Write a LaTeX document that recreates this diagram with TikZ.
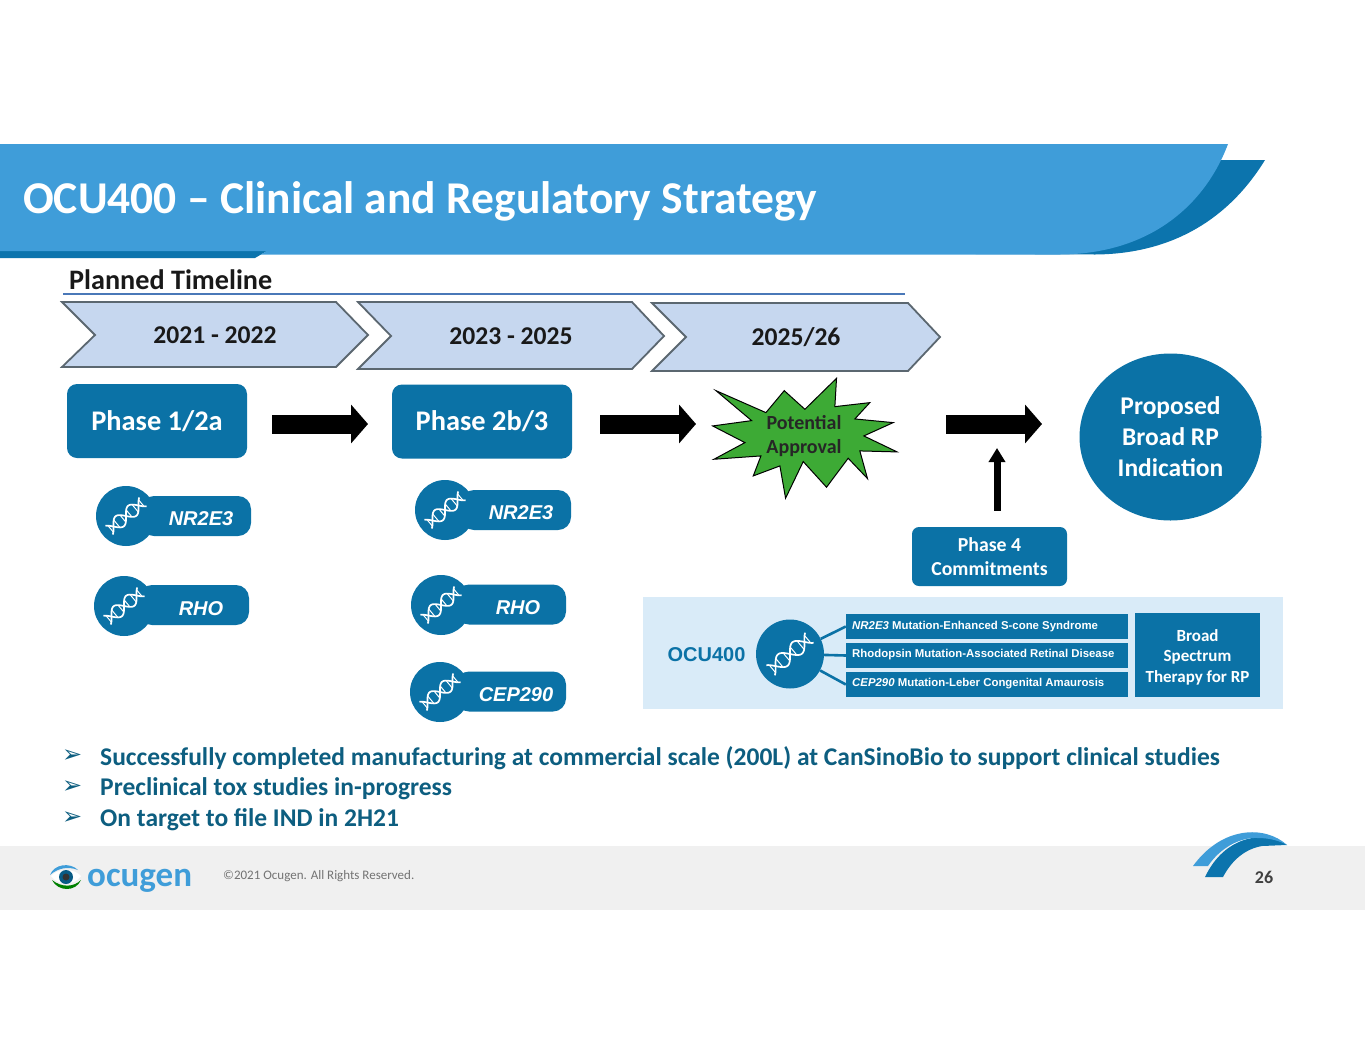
\documentclass[tikz,border=0pt]{standalone}
\usepackage{fontspec}
\setmainfont{Carlito}
\newfontfamily\armfont{Liberation Sans}
\newfontfamily\dejafont{DejaVu Sans}
\usetikzlibrary{shapes.geometric,arrows.meta}
\definecolor{bandlight}{HTML}{3F9DD9}
\definecolor{banddark}{HTML}{0C74AD}
\definecolor{boxblue}{HTML}{0B72A6}
\definecolor{chevfill}{HTML}{C6D7EF}
\definecolor{chevline}{HTML}{5B6770}
\definecolor{panelblue}{HTML}{D9EBF8}
\definecolor{bullettext}{HTML}{0D5E80}
\definecolor{starfill}{HTML}{3DAA35}
\definecolor{ruleblue}{HTML}{4A78B8}
\tikzset{phasebox/.style={fill=boxblue,rounded corners=10pt,minimum width=180pt,minimum height=74pt,text=white,font=\bfseries\fontsize{28.4}{32}\selectfont}}
\tikzset{chevron/.style={fill=chevfill,draw=chevline,line width=1.8pt,miter limit=10}}
\tikzset{yeartext/.style={font=\bfseries\fontsize{25.6}{30}\selectfont,text=black!90}}
\tikzset{blockarrow/.style={line width=19pt,-{Triangle[length=17pt,width=38pt]}}}
\tikzset{pillcirc/.style={circle,fill=boxblue,minimum size=60pt,inner sep=0pt}}
\tikzset{pillbar/.style={fill=boxblue,rounded corners=13pt,minimum width=110pt,minimum height=40pt,inner sep=0pt}}
\tikzset{pilltext/.style={text=white,font=\armfont\bfseries\itshape\fontsize{20}{24}\selectfont}}
\tikzset{diseasebox/.style={fill=boxblue,minimum width=282pt,minimum height=25pt,inner sep=0pt}}
\tikzset{diseasetext/.style={anchor=west,inner sep=0pt,text=white,font=\armfont\bfseries\fontsize{11.4}{14}\selectfont}}
\tikzset{bullettxt/.style={anchor=west,inner sep=0pt,text=bullettext,font=\bfseries\fontsize{25.5}{30}\selectfont}}
\tikzset{bulletmark/.style={anchor=west,inner sep=0pt,text=bullettext,font=\dejafont\fontsize{24}{26}\selectfont}}
\tikzset{dna/.pic={
    \begin{scope}[rotate=40,white,line width=1.7pt]
      \draw plot[domain=-22:22,samples=40,smooth] (\x,{6.5*sin(\x*11)});
      \draw plot[domain=-22:22,samples=40,smooth] (\x,{-6.5*sin(\x*11)});
      \foreach \i in {-20,-16,-12,-4,4,12,16,20} \draw[line width=1pt] (\i,{6.5*sin(\i*11)}) -- (\i,{-6.5*sin(\i*11)});
    \end{scope}}}
\begin{document}
\begin{tikzpicture}[x=1pt,y=-1pt]
    \useasboundingbox (0,0) rectangle (1365,1055);
    \fill[white] (0,0) rectangle (1365,1055);
    \fill[banddark] (0,160) -- (1265,160) .. controls (1225,225) and (1165,254) .. (1095,254.5) -- (267,251) -- (255,258) -- (0,258) -- cycle;
    \fill[bandlight] (0,144) -- (1228,144) .. controls (1205,205) and (1150,254) .. (1060,254.5) -- (261,254.5) -- (267,251) -- (0,251) -- cycle;
    \node[anchor=west,inner sep=0pt,text=white,font=\bfseries\fontsize{45.5}{52}\selectfont] (title) at (23,201) {OCU400 – Clinical and Regulatory Strategy};
    \node[anchor=west,inner sep=0pt,font=\bfseries\fontsize{28.2}{32}\selectfont,text=black!90] (plan) at (69,280) {Planned Timeline};
    \draw[ruleblue,line width=2.6pt] (63,294) -- (905,294);

    \draw[chevron] (62,302) -- (336,302) -- (368,335) -- (336,367) -- (62,367) -- (95,335) -- cycle;
    \draw[chevron] (358,302) -- (632,302) -- (664,336) -- (632,369) -- (358,369) -- (391,336) -- cycle;
    \draw[chevron] (652,303) -- (908,303) -- (940,337) -- (908,371) -- (652,371) -- (686,337) -- cycle;
    \node[yeartext] (yearA) at (215,335) {2021 - 2022};
    \node[yeartext] (yearB) at (511,336) {2023 - 2025};
    \node[yeartext] (yearC) at (796,337) {2025/26};

    \node[phasebox] (phaseA) at (157,421) {Phase 1/2a};
    \node[phasebox] (phaseB) at (482,421.5) {Phase 2b/3};
    \begin{scope}[shift={(690,370)},x=0.333pt,y=-0.333pt]
      \draw[fill=starfill,draw=black,line width=1pt,miter limit=10] (78,62) -- (228,128) -- (283,62) -- (345,118) -- (440,25) -- (435,110) -- (540,98) -- (495,147) -- (610,158) -- (522,198) -- (622,246) -- (510,243) -- (533,326) -- (475,265) -- (410,352) -- (340,275) -- (287,385) -- (270,288) -- (190,318) -- (213,258) -- (72,268) -- (165,218) -- (68,168) -- (185,152) -- cycle;
    \end{scope}
    \node[align=center,inner sep=0pt,font=\bfseries\fontsize{20}{24}\selectfont,text=black!85] (star) at (804,436) {Potential\\Approval};
    \node[ellipse,fill=boxblue,minimum width=182pt,minimum height=167pt,inner sep=0pt,align=center,text=white,font=\bfseries\fontsize{25.5}{31}\selectfont] (prop) at (1170.5,437) {Proposed\\Broad RP\\Indication};
    \node[fill=boxblue,rounded corners=7pt,minimum width=155pt,minimum height=59pt,inner sep=0pt,align=center,text=white,font=\bfseries\fontsize{19.8}{24}\selectfont] (phaseD) at (989.5,556.5) {Phase 4\\Commitments};
    \coordinate (joinA) at (272,424);
    \coordinate (joinB) at (368,424);
    \coordinate (joinC) at (600,424);
    \coordinate (joinD) at (696,424);
    \coordinate (joinE) at (946,424);
    \coordinate (joinF) at (1042,424);
    \coordinate (joinG) at (997,448);
    \draw[blockarrow] (joinA) -- (joinB);
    \draw[blockarrow] (joinC) -- (joinD);
    \draw[blockarrow] (joinE) -- (joinF);
    \draw[line width=7pt,-{Triangle[length=14pt,width=16pt]}] (phaseD.north -| joinG) ++(0,-16) -- (joinG);

    \node[pillbar] (nrAbar) at (196,516) {};
    \node[pillcirc] (nrAcirc) at (126,516) {};
    \pic at (nrAcirc) {dna};
    \node[pilltext] (nrAtext) at (201,519) {NR2E3};
    \node[pillbar] (rhoAbar) at (194,605) {};
    \node[pillcirc] (rhoAcirc) at (124,606) {};
    \pic at (rhoAcirc) {dna};
    \node[pilltext] (rhoAtext) at (201,609) {RHO};
    \node[pillbar] (nrBbar) at (516,510) {};
    \node[pillcirc] (nrBcirc) at (445,510) {};
    \pic at (nrBcirc) {dna};
    \node[pilltext] (nrBtext) at (521,513) {NR2E3};
    \node[pillbar] (rhoBbar) at (511,604.5) {};
    \node[pillcirc] (rhoBcirc) at (441,605) {};
    \pic at (rhoBcirc) {dna};
    \node[pilltext] (rhoBtext) at (518,608) {RHO};
    \node[pillbar] (cepbar) at (511,691.5) {};
    \node[pillcirc] (cepcirc) at (440,692) {};
    \pic at (cepcirc) {dna};
    \node[pilltext] (ceptext) at (516,695) {CEP290};

    \fill[panelblue] (643,597) rectangle (1283,709);
    \node[text=boxblue,inner sep=0pt,font=\armfont\bfseries\fontsize{20}{24}\selectfont] (ocu) at (706.5,655) {OCU400};
    \node[diseasebox] (disA) at (987,626.5) {};
    \node[diseasebox] (disB) at (987,655.5) {};
    \node[diseasebox] (disC) at (987,684.5) {};
    \node[diseasetext] (disAtext) at (852,627) {\itshape NR2E3 \upshape Mutation-Enhanced S-cone Syndrome};
    \node[diseasetext] (disBtext) at (852,655) {Rhodopsin Mutation-Associated Retinal Disease};
    \node[diseasetext] (disCtext) at (852,684) {\itshape CEP290 \upshape Mutation-Leber Congenital Amaurosis};
    \node[ellipse,fill=boxblue,minimum width=68pt,minimum height=69pt,inner sep=0pt] (ocucirc) at (790,654) {};
    \draw[boxblue,line width=2.6pt] (ocucirc) -- (disA.west);
    \draw[boxblue,line width=2.6pt] (ocucirc) -- (disB.west);
    \draw[boxblue,line width=2.6pt] (ocucirc) -- (disC.west);
    \pic[scale=1.15] at (ocucirc) {dna};
    \node[fill=boxblue,minimum width=125pt,minimum height=84pt,inner sep=0pt] (broad) at (1197.5,655) {};
    \node[inner sep=0pt,align=center,text=white,font=\bfseries\fontsize{17}{20.5}\selectfont] (broadtext) at (1197.5,657) {Broad\\Spectrum\\Therapy for RP};

    \node[bulletmark] (markA) at (62,756) {➢};
    \node[bulletmark] (markB) at (62,787) {➢};
    \node[bulletmark] (markC) at (62,818) {➢};
    \node[bullettxt] (textA) at (100,758) {Successfully completed manufacturing at commercial scale (200L) at CanSinoBio to support clinical studies};
    \node[bullettxt] (textB) at (100,789) {Preclinical tox studies in-progress};
    \node[bullettxt] (textC) at (100,820) {On target to file IND in 2H21};

    \fill[black!6] (0,846) rectangle (1365,910);
    \fill[banddark] (1205,877) -- (1223,877) .. controls (1232,860) and (1245,849) .. (1262,846) -- (1287,845) .. controls (1265,830) and (1225,835) .. (1205,877) -- cycle;
    \fill[bandlight] (1193,866) -- (1208,866) .. controls (1220,848) and (1240,837) .. (1258,838) .. controls (1270,838) and (1280,841) .. (1287,845) .. controls (1265,825) and (1222,826) .. (1193,866) -- cycle;
    \node[inner sep=0pt,text=black!75,font=\bfseries\fontsize{18}{20}\selectfont] (page) at (1264,877) {26};
    \fill[white] (51,876) .. controls (58,868) and (74,868) .. (81,876) .. controls (74,886) and (58,886) .. (51,876) -- cycle;
    \fill[bandlight] (50,875) .. controls (54,864) and (70,862) .. (78,870) .. controls (68,866) and (58,868) .. (50,875) -- cycle;
    \fill[green!50!black] (52,880) .. controls (58,892) and (76,892) .. (81,880) .. controls (74,887) and (62,888) .. (52,880) -- cycle;
    \fill[boxblue!80!black] (66,877) circle (7);
    \fill[black!80] (66,877) circle (3.5);
    \node[anchor=west,inner sep=0pt,text=bandlight,font=\bfseries\fontsize{35}{40}\selectfont] (logo) at (87,881) {ocugen};
    \node[anchor=west,inner sep=0pt,text=black!55,font=\fontsize{13}{16}\selectfont] (copy) at (223,876) {©2021  Ocugen. All Rights Reserved.};
  \end{tikzpicture}
\end{document}
